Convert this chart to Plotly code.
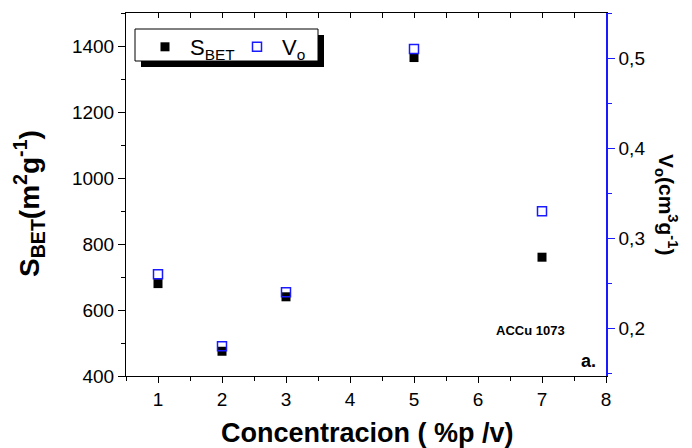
import plotly.graph_objects as go

conc = [1, 2, 3, 5, 7]
s_bet = [680, 475, 640, 1365, 760]
v_o = [0.26, 0.18, 0.24, 0.51, 0.33]

FONT = "Arial, Liberation Sans, sans-serif"
W, H = 692, 448
L, R, T, B = 126, 86, 13, 72

fig = go.Figure()
fig.add_trace(go.Scatter(x=conc, y=s_bet, mode="markers", name="S<sub>BET</sub>",
                         marker=dict(symbol="square", size=9, color="black"),
                         xaxis="x", yaxis="y"))
fig.add_trace(go.Scatter(x=conc, y=v_o, mode="markers", name="V<sub>o</sub>",
                         marker=dict(symbol="square-open", size=9, color="#1a1aff",
                                     line=dict(width=1.5, color="#1a1aff")),
                         xaxis="x", yaxis="y2"))
fig.add_trace(go.Scatter(x=[conc[0]], y=[s_bet[0]], mode="markers", showlegend=False,
                         marker=dict(opacity=0), hoverinfo="skip", xaxis="x2", yaxis="y"))

pw = W - L - R
ph = H - T - B
def px(x):
    return (x - L) / pw
def py(y):
    return 1 - (y - T) / ph

shapes = [
    dict(type="rect", xref="paper", yref="paper", x0=px(141), x1=px(324), y0=py(67), y1=py(35),
         fillcolor="black", line=dict(width=0), layer="below"),
    dict(type="rect", xref="paper", yref="paper", x0=px(135), x1=px(318), y0=py(61), y1=py(29),
         fillcolor="white", line=dict(width=1, color="black"), layer="below"),
]

fig.update_layout(
    width=W, height=H,
    margin=dict(l=L, r=R, t=T, b=B, pad=0, autoexpand=False),
    paper_bgcolor="white", plot_bgcolor="white",
    separators=",.",
    font=dict(family=FONT, size=19, color="black"),
    showlegend=True,
    legend=dict(x=px(140), y=py(26), xanchor="left", yanchor="top", orientation="h",
                bgcolor="rgba(0,0,0,0)", borderwidth=0, font=dict(size=22),
                itemwidth=40, tracegroupgap=0, entrywidth=37, entrywidthmode="pixels"),
    xaxis=dict(range=[0.5, 8], dtick=1, tick0=1, ticks="outside", ticklen=6, tickwidth=1,
               tickcolor="black", showline=True, linecolor="black", linewidth=1,
               showgrid=False, zeroline=False, automargin=False,
               minor=dict(dtick=0.5, tick0=0.5, ticks="outside", ticklen=4, tickcolor="black", showgrid=False)),
    xaxis2=dict(range=[0.5, 8], overlaying="x", side="top", anchor="y", dtick=1, tick0=1,
                ticks="inside", ticklen=5, tickcolor="black", showticklabels=False,
                showline=True, linecolor="black", linewidth=1, showgrid=False, zeroline=False,
                minor=dict(dtick=0.5, tick0=0.5, ticks="inside", ticklen=5, tickcolor="black", showgrid=False)),
    yaxis=dict(range=[400, 1500], dtick=200, tick0=400, ticks="outside", ticklen=7,
               tickcolor="black", showline=True, linecolor="black", linewidth=1,
               showgrid=False, zeroline=False, automargin=False,
               minor=dict(dtick=100, tick0=400, ticks="outside", ticklen=4, tickcolor="black", showgrid=False)),
    yaxis2=dict(range=[0.147, 0.55], overlaying="y", side="right", anchor="x", dtick=0.1, tick0=0.2,
                ticks="outside", ticklen=7, tickcolor="#1a1aff", showline=True, linecolor="#1a1aff",
                linewidth=1.5, showgrid=False, zeroline=False, tickformat=".1f", automargin=False,
                minor=dict(dtick=0.05, tick0=0.15, ticks="outside", ticklen=4, tickcolor="#1a1aff", showgrid=False)),
    shapes=shapes,
    annotations=[
        dict(text="<b>Concentracion ( %p /v)</b>", xref="paper", yref="paper",
             x=px(367), y=py(433), showarrow=False, font=dict(size=27),
             xanchor="center", yanchor="middle"),
        dict(text="<b>S<sub>BET</sub>(m<sup>2</sup>g<sup>-1</sup>)</b>", xref="paper", yref="paper",
             x=px(29), y=py(204), textangle=-90, showarrow=False, font=dict(size=28),
             xanchor="center", yanchor="middle"),
        dict(text="<b>V<sub>o</sub>(cm<sup>3</sup>g<sup>-1</sup>)</b>", xref="paper", yref="paper",
             x=px(667), y=py(204), textangle=90, showarrow=False, font=dict(size=21),
             xanchor="center", yanchor="middle"),
        dict(text="<b>ACCu 1073</b>", xref="paper", yref="paper", x=px(530), y=py(330),
             showarrow=False, font=dict(size=13), xanchor="center", yanchor="middle"),
        dict(text="<b>a.</b>", xref="paper", yref="paper", x=px(588), y=py(361),
             showarrow=False, font=dict(size=18), xanchor="center", yanchor="middle"),
    ],
)

fig.write_html("out.html", config={"displayModeBar": False},
               post_script="document.body.style.margin='0';")
